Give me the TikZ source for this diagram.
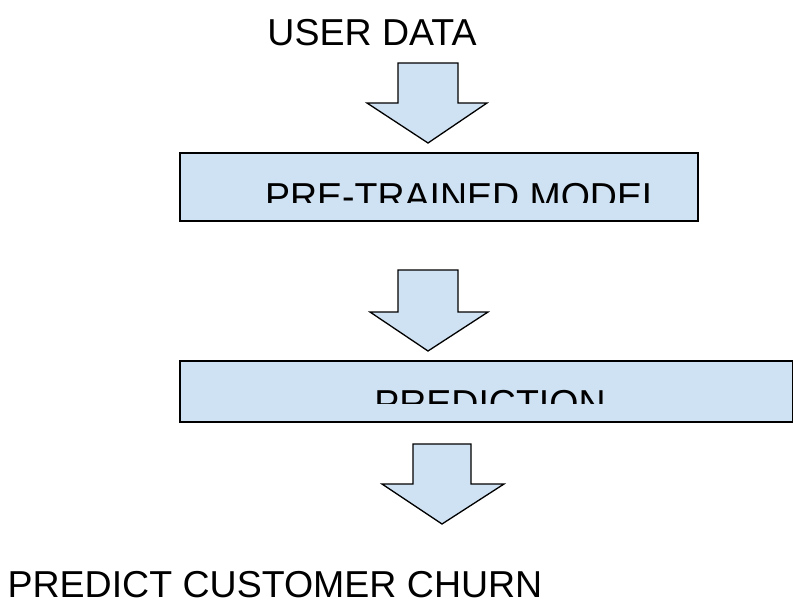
\documentclass[tikz,border=0pt]{standalone}
\usepackage{fontspec}
\setmainfont{Liberation Sans}
\definecolor{boxblue}{HTML}{CFE2F3}
\tikzset{
  panel/.style={draw=black, fill=boxblue, line width=1.3pt},
  blockarrow/.style={draw=black, fill=boxblue, line width=1.3pt, line join=miter},
  caption/.style={inner sep=0pt, anchor=base, font=\fontsize{37.5}{42}\selectfont}
}
\begin{document}
\begin{tikzpicture}[x=1pt,y=-1pt]
\useasboundingbox (0,0) rectangle (793,600);
% top label
\node[caption] (user) at (372,45) {USER DATA};
% first block arrow
\draw[blockarrow] (398,63) -- (458,63) -- (458,103) -- (487,103) -- (428,143)
  -- (367,103) -- (398,103) -- cycle;
% pre-trained model box, text cut at its lower part
\draw[panel] (180,153) rectangle (698,221);
\begin{scope}
  \clip (0,0) rectangle (793,202);
  \node[caption] (model) at (464,209) {PRE-TRAINED MODEL};
\end{scope}
% second block arrow
\draw[blockarrow] (398,270) -- (458,270) -- (458,312) -- (488,312) -- (428,351)
  -- (370,312) -- (398,312) -- cycle;
% prediction box, text cut at its lower part
\draw[panel] (180,361) rectangle (793,422);
\begin{scope}
  \clip (0,0) rectangle (793,403);
  \node[caption] (pred) at (490,416) {PREDICTION};
\end{scope}
% third block arrow
\draw[blockarrow] (413,444) -- (471,444) -- (471,484) -- (504,484) -- (442,524)
  -- (382,484) -- (413,484) -- cycle;
% bottom label
\node[caption] (churn) at (275,597) {PREDICT CUSTOMER CHURN};
\end{tikzpicture}
\end{document}
